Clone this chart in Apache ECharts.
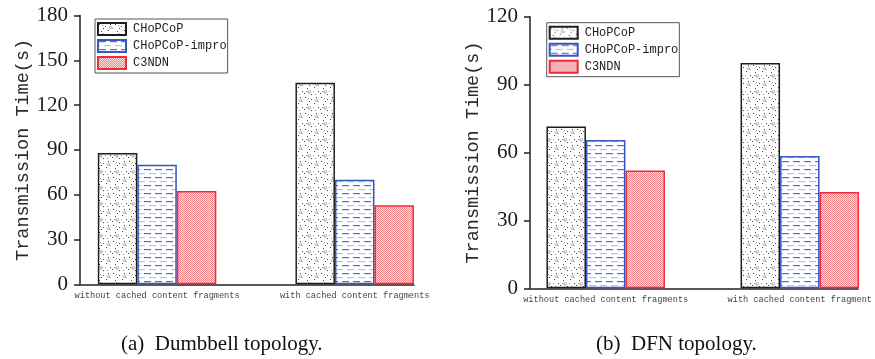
<!DOCTYPE html>
<html><head><meta charset="utf-8">
<script src="https://cdn.jsdelivr.net/npm/echarts@6/dist/echarts.min.js"></script>
<style>html,body{margin:0;padding:0;background:#fff}#c{width:875px;height:359px}</style>
</head><body><div id="c"></div>
<script>
// ---- data ----
const categories = ["without cached content fragments", "with cached content fragments"];
const categoriesB = ["without cached content fragments", "with cached content fragment"];
const seriesNames = ["CHoPCoP", "CHoPCoP-impro", "C3NDN"];
// (a) Dumbbell topology
const dumbCHoPCoP = [88, 135];
const dumbImpro = [80, 70];
const dumbC3NDN = [62.5, 53];
// (b) DFN topology
const dfnCHoPCoP = [71.5, 99.5];
const dfnImpro = [65.5, 58.5];
const dfnC3NDN = [52, 42.5];
const yTicksA = [0, 30, 60, 90, 120, 150, 180];
const yTicksB = [0, 30, 60, 90, 120];
const captions = ["(a)  Dumbbell topology.", "(b)  DFN topology."];

// ---- patterns ----
function mk(w, h, draw) { const c = document.createElement('canvas'); c.width = w; c.height = h; const g = c.getContext('2d'); g.fillStyle = '#fff'; g.fillRect(0, 0, w, h); draw(g); return c; }
const dotTile = mk(16, 16, g => {
  g.fillStyle = '#444';
  [[1,1],[7,3],[12,1],[3,8],[10,7],[14,11],[0,13],[7,14],[5,5]].forEach(p => g.fillRect(p[0], p[1], 1, 1));
  g.fillStyle = '#999';
  [[9,11],[2,11],[14,5],[4,2],[11,14]].forEach(p => g.fillRect(p[0], p[1], 1, 1));
  g.strokeStyle = '#8a8a8a'; g.lineWidth = 0.7;
  g.beginPath(); g.arc(5, 12, 1.3, 0, Math.PI * 2); g.stroke();
  g.beginPath(); g.arc(12.5, 4.5, 1.2, 0, Math.PI * 2); g.stroke();
});
const dashTile = mk(11, 8, g => {
  g.fillStyle = '#4f6fd6'; g.fillRect(1, 1, 7, 1.2);
  g.fillStyle = '#b3c2ee'; g.fillRect(6, 5, 5, 1.2); g.fillRect(0, 5, 2, 1.2);
});
const hatchTile = mk(2, 2, g => {
  g.fillStyle = '#fcdcdd'; g.fillRect(0, 0, 2, 2);
  g.fillStyle = '#f4868b'; g.fillRect(0, 0, 1, 1); g.fillRect(1, 1, 1, 1);
});
const styles = [
  { color: { image: dotTile, repeat: 'repeat' }, borderColor: '#1e1e1e', borderWidth: 1.5 },
  { color: { image: dashTile, repeat: 'repeat' }, borderColor: '#3557c0', borderWidth: 1.5 },
  { color: { image: hatchTile, repeat: 'repeat' }, borderColor: '#ee2b36', borderWidth: 1.5 }
];

const chart = echarts.init(document.getElementById('c'), null, { renderer: 'canvas' });
const serifF = 'Liberation Serif';
const monoF = 'Liberation Mono';

function pairs(vals) { return vals.map((v, i) => [i + 1, v]); }
function xAxis(gi, labels) {
  return {
    type: 'value', gridIndex: gi, min: 0.61, max: 2.3,
    axisLine: { show: true, onZero: false, lineStyle: { color: '#222', width: 1.5 } },
    axisTick: { show: false }, splitLine: { show: false },
    axisLabel: { customValues: [1, 2], margin: 7, fontFamily: monoF, fontSize: 8.6, color: '#444',
      formatter: v => labels[Math.round(v) - 1] || '' }
  };
}
function yAxis(gi, ticks) {
  return {
    type: 'value', gridIndex: gi, min: ticks[0], max: ticks[ticks.length - 1], interval: ticks[1] - ticks[0],
    name: 'Transmission Time(s)', nameLocation: 'middle', nameGap: 47,
    nameTextStyle: { fontFamily: monoF, fontSize: 18.5, color: '#2a2a2a' },
    axisLine: { show: true, lineStyle: { color: '#222', width: 1.5 } },
    axisTick: { show: true, inside: false, length: 6, lineStyle: { color: '#222', width: 1.5 } },
    splitLine: { show: false },
    axisLabel: { margin: 12, fontFamily: serifF, fontSize: 21, color: '#1a1a1a' }
  };
}
function legend(left, top) {
  return {
    orient: 'vertical', left: left, top: top, data: seriesNames,
    itemWidth: 28, itemHeight: 12, itemGap: 3, padding: [3, 1, 3, 2],
    borderColor: '#555', borderWidth: 1, icon: 'rect',
    textStyle: { fontFamily: monoF, fontSize: 12, lineHeight: 12, color: '#222', padding: [0, 0, 0, 2] },
    selectedMode: false
  };
}
const dataA = [dumbCHoPCoP, dumbImpro, dumbC3NDN];
const dataB = [dfnCHoPCoP, dfnImpro, dfnC3NDN];
const series = [];
[dataA, dataB].forEach((set, gi) => {
  set.forEach((vals, si) => {
    series.push({
      type: 'bar', name: seriesNames[si], xAxisIndex: gi, yAxisIndex: gi,
      data: pairs(vals), barWidth: 39.5, barGap: '0%', itemStyle: styles[si],
      emphasis: { disabled: true }, animation: false
    });
  });
});

const capStyle = { fontFamily: serifF, fontSize: 21, fontWeight: 'normal', color: '#111' };
chart.setOption({
  animation: false,
  grid: [
    { left: 80, right: 461, top: 15.5, bottom: 74.7 },
    { left: 530, right: 11, top: 16.7, bottom: 70.7 }
  ],
  xAxis: [xAxis(0, categories), xAxis(1, categoriesB)],
  yAxis: [yAxis(0, yTicksA), yAxis(1, yTicksB)],
  legend: [legend(95, 19), legend(546.7, 22.7)],
  title: [
    { text: captions[0], left: 121, top: 334, padding: 0, textStyle: capStyle },
    { text: captions[1], left: 596, top: 334, padding: 0, textStyle: capStyle }
  ],
  series: series
});
</script></body></html>
